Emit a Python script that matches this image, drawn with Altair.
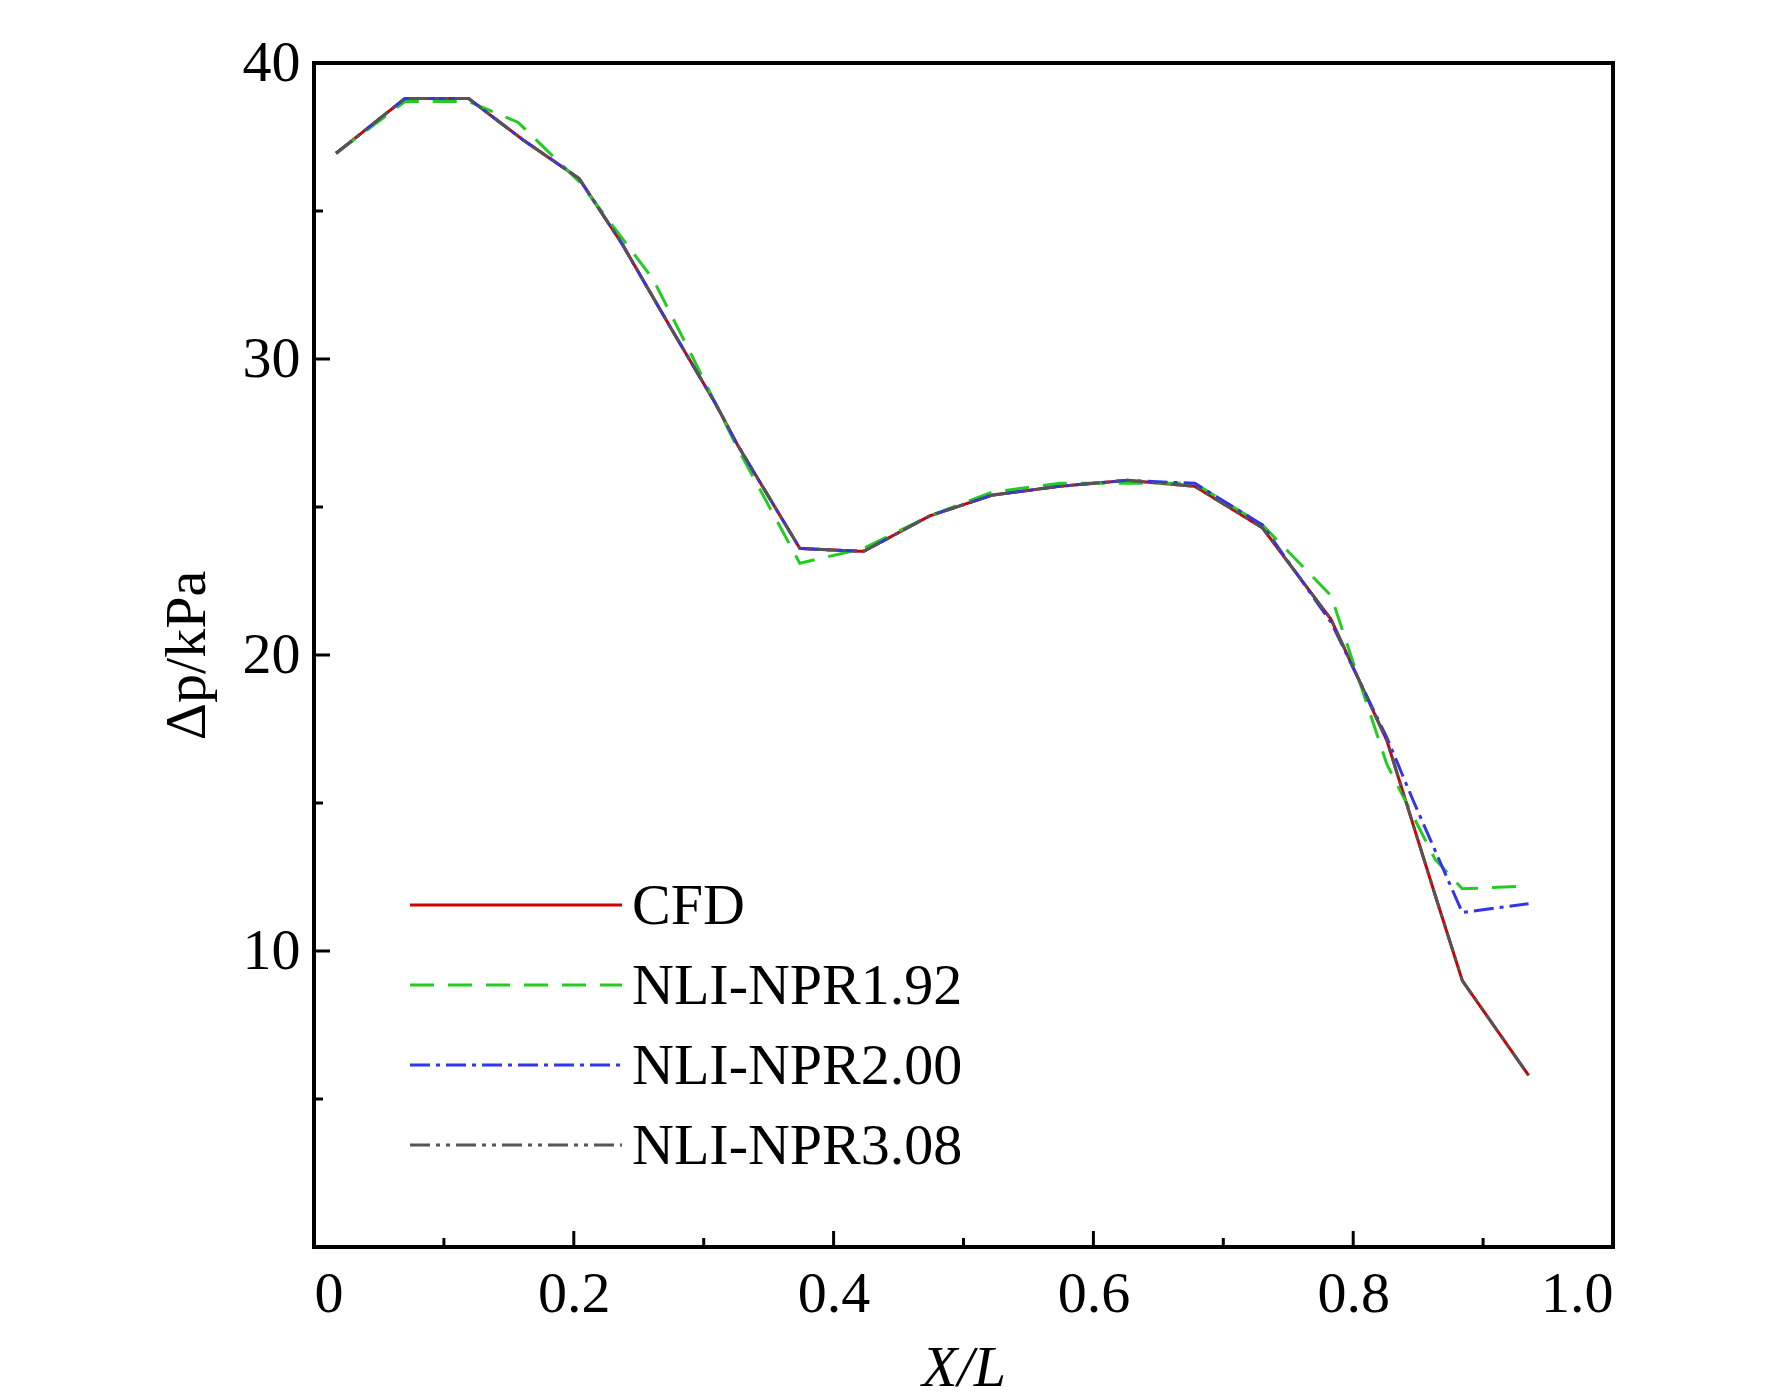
import altair as alt
import pandas as pd

x_cfd = [0.017,0.07,0.119,0.161,0.204,0.237,0.274,0.309,0.326,0.374,0.423,0.474,0.522,0.574,0.626,0.678,0.73,0.783,0.826,0.863,0.884,0.935]
y_cfd = [36.95,38.8,38.8,37.4,36.1,33.9,31.1,28.5,27.1,23.6,23.5,24.7,25.4,25.7,25.9,25.7,24.3,21.2,17.1,11.9,9.0,5.8]
x_192 = [0.017,0.07,0.119,0.157,0.204,0.261,0.291,0.326,0.374,0.423,0.474,0.522,0.574,0.626,0.678,0.73,0.783,0.826,0.863,0.884,0.935]
y_192 = [36.95,38.7,38.7,38.0,36.0,32.7,30.1,27.0,23.1,23.6,24.7,25.5,25.8,25.8,25.8,24.4,22.0,16.3,13.1,12.1,12.2]
x_200 = [0.017,0.07,0.119,0.161,0.204,0.237,0.274,0.309,0.326,0.374,0.423,0.474,0.522,0.574,0.626,0.678,0.73,0.783,0.826,0.846,0.884,0.935]
y_200 = [36.95,38.8,38.8,37.4,36.1,33.9,31.1,28.5,27.1,23.6,23.5,24.7,25.4,25.7,25.9,25.8,24.4,21.1,17.2,15.1,11.3,11.6]
x_308 = x_cfd
y_308 = y_cfd

series = ["CFD", "NLI-NPR1.92", "NLI-NPR2.00", "NLI-NPR3.08"]
colors = ["#d00000", "#22cc22", "#3333ee", "#555555"]
dashes = [[1, 0], [24, 14], [20, 6, 4, 6], [20, 6, 4, 6, 4, 6]]

rows = []
for name, xs, ys in zip(series, [x_cfd, x_192, x_200, x_308], [y_cfd, y_192, y_200, y_308]):
    for i, (a, b) in enumerate(zip(xs, ys)):
        rows.append({"s": name, "x": a, "y": b, "o": i})
df = pd.DataFrame(rows)

W, H = 1299, 1184
font = "Liberation Serif"
FS = 58

lines = alt.Chart(df).mark_line(strokeWidth=3).encode(
    x=alt.X("x:Q", scale=alt.Scale(domain=[0, 1], nice=False),
            axis=alt.Axis(values=[0, 0.2, 0.4, 0.6, 0.8, 1.0], format=".1f", labelExpr="datum.value == 0 ? '0' : datum.label",
                          ticks=False, labelPadding=18, grid=False, domain=False,
                          title="X/L", titleFontStyle="italic", titleFontWeight="normal",
                          titlePadding=16)),
    y=alt.Y("y:Q", scale=alt.Scale(domain=[0, 40], nice=False),
            axis=alt.Axis(values=[10, 20, 30, 40], ticks=False, labelPadding=14, grid=False,
                          domain=False, title="Δp/kPa", titleFontWeight="normal", titlePadding=26)),
    color=alt.Color("s:N", scale=alt.Scale(domain=series, range=colors), legend=None),
    strokeDash=alt.StrokeDash("s:N", scale=alt.Scale(domain=series, range=dashes), legend=None),
    order="o:Q",
)

layers = [lines]
for k, (name, c, d) in enumerate(zip(series, colors, dashes)):
    yy = 842 + 80 * k
    one = pd.DataFrame({"s": [name]})
    layers.append(alt.Chart(one).mark_rule(color=c, strokeWidth=3, strokeDash=d).encode(
        x=alt.value(96), x2=alt.value(308), y=alt.value(yy)))
    layers.append(alt.Chart(one).mark_text(align="left", baseline="middle", font=font,
                                           fontSize=FS, color="black").encode(
        text="s:N", x=alt.value(318), y=alt.value(yy + 2)))

xt = pd.DataFrame({"v": [0.2, 0.4, 0.6, 0.8]})
xtm = pd.DataFrame({"v": [0.1, 0.3, 0.5, 0.7, 0.9]})
yt = pd.DataFrame({"v": [10, 20, 30]})
ytm = pd.DataFrame({"v": [5, 15, 25, 35]})

layers += [
    alt.Chart(xt).mark_rule(color="black", strokeWidth=3).encode(x="v:Q", y=alt.value(H), y2=alt.value(H - 16)),
    alt.Chart(xtm).mark_rule(color="black", strokeWidth=3).encode(x="v:Q", y=alt.value(H), y2=alt.value(H - 9)),
    alt.Chart(yt).mark_rule(color="black", strokeWidth=3).encode(y="v:Q", x=alt.value(0), x2=alt.value(16)),
    alt.Chart(ytm).mark_rule(color="black", strokeWidth=3).encode(y="v:Q", x=alt.value(0), x2=alt.value(9)),
]

chart = alt.layer(*layers).properties(
    width=W, height=H, background="white",
    padding={"left": 150, "top": 26, "right": 10, "bottom": 10}
).configure_view(stroke="black", strokeWidth=4).configure_axis(
    labelFont=font, labelFontSize=FS, labelColor="black",
    titleFont=font, titleFontSize=FS, titleColor="black"
)

chart.save("out.html", embed_options={"renderer": "svg", "actions": False})
